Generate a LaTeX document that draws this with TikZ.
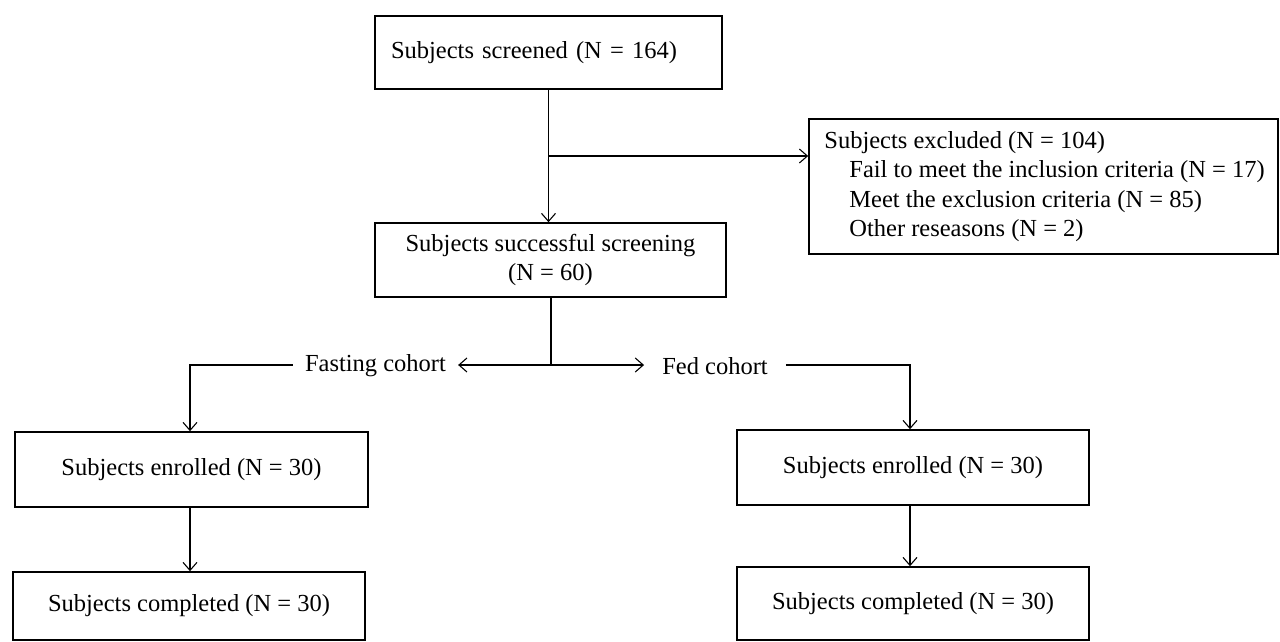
\documentclass[tikz,border=0pt]{standalone}
\usepackage{fontspec}
\setmainfont{Liberation Serif}
\usetikzlibrary{arrows.meta}
\begin{document}
\begin{tikzpicture}[x=1pt,y=-1pt,
  box/.style={draw,line width=1.6pt,minimum height=#1,font=\fontsize{24.5}{29}\selectfont,inner sep=0pt,align=center},
  box/.default=74pt,
  lbl/.style={inner xsep=12pt,inner ysep=2pt,font=\fontsize{24.5}{29}\selectfont},
  conn/.style={line width=1.1pt},
  arr/.style={conn,-{Straight Barb[length=8pt,width=14pt,line width=1.1pt]}}]
\useasboundingbox (0,0) rectangle (1280,642);
\node[box=73pt,minimum width=347pt,text width=315pt,align=left] (scr) at (548.5,52.5) {Subjects screened (N = 164)};
\node[box=74pt,minimum width=351pt] (suc) at (550.5,260) {Subjects successful screening\\(N = 60)};
\node[box=135pt,minimum width=469pt] (exc) at (1043.5,186.5) {};
\node[anchor=west,inner sep=0pt,align=left,font=\fontsize{24.5}{29.5}\selectfont] (exct) at ([xshift=16pt]exc.west)
  {Subjects excluded (N = 104)\\
   \hspace*{25pt}Fail to meet the inclusion criteria (N = 17)\\
   \hspace*{25pt}Meet the exclusion criteria (N = 85)\\
   \hspace*{25pt}Other reseasons (N = 2)};
\node[box=75pt,minimum width=353pt] (enrL) at (191.5,469.5) {Subjects enrolled (N = 30)};
\node[box=68pt,minimum width=352pt] (comL) at (189,606) {Subjects completed (N = 30)};
\node[box=75pt,minimum width=352pt] (enrR) at (913,467.5) {Subjects enrolled (N = 30)};
\node[box=73pt,minimum width=352pt] (comR) at (913,603.5) {Subjects completed (N = 30)};
\node[lbl] (fast) at (375.5,366) {Fasting cohort};
\node[lbl,inner xsep=18pt] (fed) at (715,366) {Fed cohort};
\coordinate (b1) at (548.5,156);
\coordinate (split) at (551,365);
\coordinate (cl) at (190,365);
\coordinate (cr) at (910,365);
\draw[arr] (scr.south) -- (scr.south |- suc.north);
\draw[arr] (b1) -- (b1 -| exc.west);
\draw[conn] (suc.south -| split) -- (split);
\draw[arr] (split) -- (split -| fast.east);
\draw[arr] (split) -- (split -| fed.west);
\draw[arr] (split -| fast.west) -- (cl) -- (cl |- enrL.north);
\draw[arr] (split -| fed.east) -- (cr) -- (cr |- enrR.north);
\draw[arr] (enrL.south -| cl) -- (cl |- comL.north);
\draw[arr] (enrR.south -| cr) -- (cr |- comR.north);
\end{tikzpicture}
\end{document}
